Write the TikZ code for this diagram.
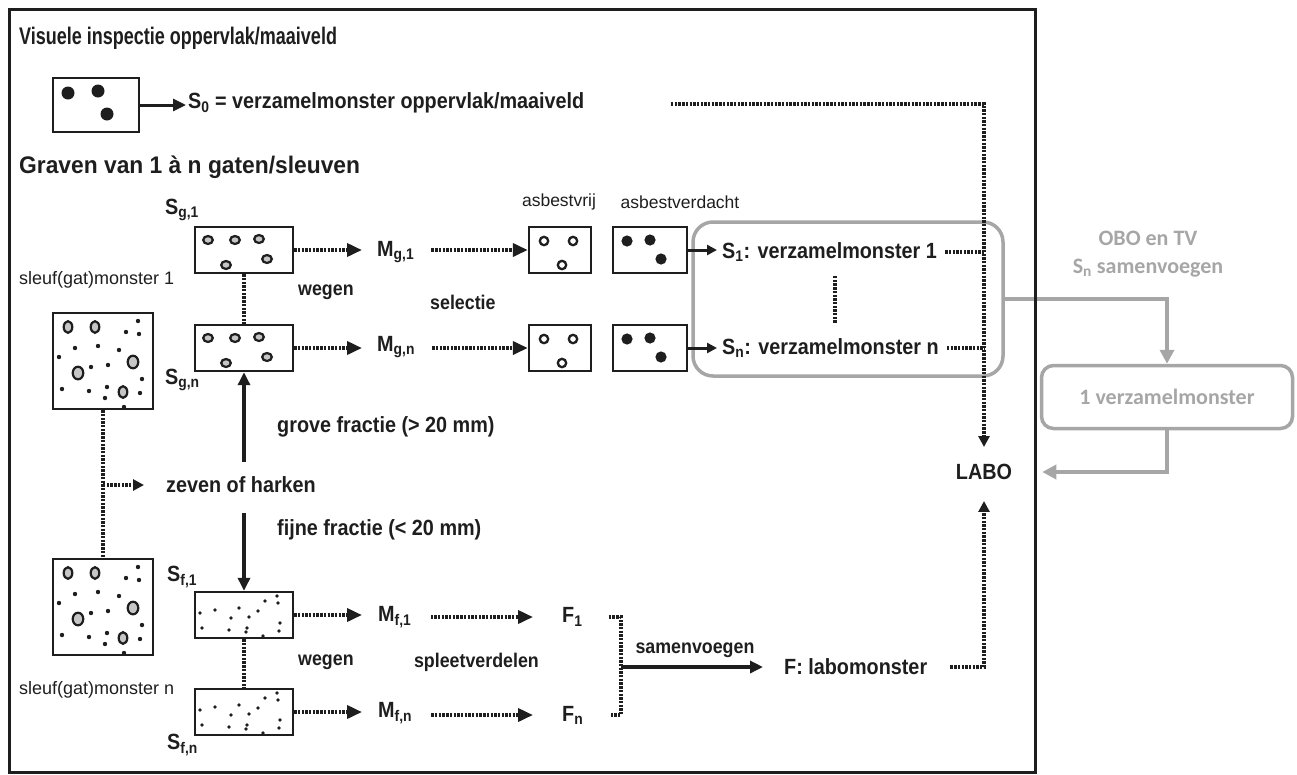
\documentclass[tikz,border=0pt]{standalone}
\usepackage{fontspec}
\setmainfont{Liberation Sans}[FakeStretch=0.9]
\newfontfamily\regfont{Liberation Sans}
\newfontfamily\titlefont{Liberation Sans}[FakeStretch=0.75]
\newfontfamily\gravenfont{Liberation Sans}[FakeStretch=0.95]
\newfontfamily\grfont{Carlito}
\usetikzlibrary{arrows.meta}
\definecolor{ink}{HTML}{1E1E1E}
\definecolor{greyline}{HTML}{A6A6A6}
\newcommand{\fs}[1]{\fontsize{#1}{#1}\selectfont}
\newcommand{\bakdots}{%
  \foreach \a/\b in {-35/-34,-8/-34,20/31} {\draw[gravel] (\a,\b) ellipse[x radius=4.3pt, y radius=5.8pt];}
  \foreach \a/\b in {30/1,-25/12} {\draw[gravel] (\a,\b) ellipse[x radius=5.3pt, y radius=6.3pt];}
  \foreach \a/\b in {35/-40,23/-29,36/-27,-28/-13,-5/-15,16/-11,-44/-4,-12/6,5/4,39/18,-41/28,-14/30,4/26,2/37,37/32,21/46} {\fill[ink] (\a,\b) circle[radius=2.2pt];}}
\newcommand{\grovedots}{%
  \foreach \a/\b in {-36/-10,-9/-10,15/-11,-18/15,23/9} {\draw[gravel] (\a,\b) ellipse[x radius=4.8pt, y radius=4pt];}}
\newcommand{\fijnedots}{%
  \foreach \a/\b in {-44/-2,-29/-5,-5/-7,-13/3,14/-4,21/-14,33/-19,34/-12,5/2,-42/13,-15/15,3/13,2/17,36/8,35/16,19/21} {\fill[ink] (\a,\b) circle[radius=1.8pt];}}
\newcommand{\vrijdots}{%
  \foreach \a/\b in {-16/-9,13/-9,2/15} {\draw[ink, line width=2.3pt, fill=white] (\a,\b) circle[radius=4.2pt];}}
\newcommand{\verdachtdots}{%
  \foreach \a/\b in {-23/-9,0/-10,11/9} {\fill[ink] (\a,\b) circle[radius=5.6pt];}}
\begin{document}
\begin{tikzpicture}[x=1pt,y=-1pt,
  smp/.style={draw=ink, line width=2.4pt, fill=white, inner sep=0pt},
  lbl/.style={inner sep=0pt, text=ink, font=\fs{22}\bfseries},
  lbls/.style={inner sep=0pt, text=ink, font=\fs{19.8}\bfseries},
  lblr/.style={inner sep=0pt, text=ink, font=\regfont\fs{18}},
  dotl/.style={draw=ink, line width=3.6pt, dash pattern=on 2.4pt off 1.3pt},
  dtip/.style={-{Triangle[length=15pt,width=13pt]}},
  ltip/.style={-{Triangle[length=11pt,width=11pt]}},
  sarr/.style={draw=ink, line width=3.4pt, -{Triangle[length=13pt,width=12pt]}},
  grl/.style={draw=greyline, line width=3.5pt},
  gtip/.style={-{Triangle[length=14pt,width=14pt]}},
  gravel/.style={draw=ink, line width=2.2pt, fill=gray!45},
  gtext/.style={inner sep=0pt, text=greyline, font=\grfont\bfseries\fs{22}}]
\useasboundingbox (0,0) rectangle (1297,774);

% ---- top part
\node[inner sep=0pt, text=ink, font=\titlefont\fs{24}\bfseries, anchor=west] (title) at (19,38) {Visuele inspectie oppervlak/maaiveld};
\node[smp, minimum width=86pt, minimum height=54pt] (s0box) at (96,105) {};
\begin{scope}[shift={(s0box.center)}]
  \fill[ink] (-28,-12) circle[radius=6.5pt] (2,-14) circle[radius=6.5pt] (11,9) circle[radius=6.5pt];
\end{scope}
\node[lbl, anchor=west] (s0t) at (188,103) {S\textsubscript{0} = verzamelmonster oppervlak/maaiveld};
\draw[sarr, line width=3pt, shorten >=2pt] (s0box.east) -- (s0box.east -| s0t.west);
\node[inner sep=0pt, text=ink, font=\gravenfont\fs{24}\bfseries, anchor=west] (graven) at (19,167) {Graven van 1 à n gaten/sleuven};

% ---- large sample boxes
\node[smp, minimum width=100pt, minimum height=96pt] (big1) at (103,361) {};
\begin{scope}[shift={(big1.center)}]\bakdots\end{scope}
\node[smp, minimum width=100pt, minimum height=96pt] (big2) at (103,607) {};
\begin{scope}[shift={(big2.center)}]\bakdots\end{scope}
\node[lblr, anchor=west] (sl1) at (19,280) {sleuf(gat)monster 1};
\node[lblr, anchor=west] (sln) at (19,690) {sleuf(gat)monster n};

% ---- coarse fraction boxes
\node[smp, minimum width=98pt, minimum height=46pt] (sg1) at (244,250) {};
\begin{scope}[shift={(sg1.center)}]\grovedots\end{scope}
\node[smp, minimum width=98pt, minimum height=46pt] (sgn) at (244,348) {};
\begin{scope}[shift={(sgn.center)}]\grovedots\end{scope}
\node[lbl, anchor=west] (lsg1) at (165,210) {S\textsubscript{g,1}};
\node[lbl, anchor=west] (lsgn) at (165,380) {S\textsubscript{g,n}};

% ---- fine fraction boxes
\node[smp, minimum width=98pt, minimum height=46pt] (sf1) at (244,615) {};
\begin{scope}[shift={(sf1.center)}]\fijnedots\end{scope}
\node[smp, minimum width=98pt, minimum height=46pt] (sfn) at (244,712) {};
\begin{scope}[shift={(sfn.center)}]\fijnedots\end{scope}
\node[lbl, anchor=west] (lsf1) at (167,577) {S\textsubscript{f,1}};
\node[lbl, anchor=west] (lsfn) at (167,745) {S\textsubscript{f,n}};

% ---- sieving
\node[lbl, anchor=west] (zeven) at (166,485) {zeven of harken};
\node[lbl, anchor=west] (grove) at (277,427) {grove fractie (> 20 mm)};
\node[lbl, anchor=west] (fijne) at (277,530) {fijne fractie (< 20 mm)};
\draw[dotl] (big1.south) -- (big2.north);
\draw[dotl, ltip] (big1.south |- zeven.west) -- ([xshift=-22pt]zeven.west);
\draw[sarr, shorten <=15pt] (zeven.north -| sgn.south) -- (sgn.south);
\draw[sarr, shorten <=20pt] (zeven.south -| sf1.north) -- (sf1.north);
\draw[dotl] (sg1.south) -- (sgn.north);
\draw[dotl] (sf1.south) -- (sfn.north);

% ---- weighing and selection (coarse)
\node[lbl, anchor=west] (mg1) at (377,252) {M\textsubscript{g,1}};
\node[lbl, anchor=west] (mgn) at (377,347) {M\textsubscript{g,n}};
\node[lbls, anchor=west] (weg1) at (298,292) {wegen};
\node[lbls, anchor=west] (sel) at (430,302) {selectie};
\node[smp, minimum width=62pt, minimum height=46pt] (av1) at (560,250) {};
\begin{scope}[shift={(av1.center)}]\vrijdots\end{scope}
\node[smp, minimum width=74pt, minimum height=46pt] (ad1) at (650,250) {};
\begin{scope}[shift={(ad1.center)}]\verdachtdots\end{scope}
\node[smp, minimum width=62pt, minimum height=46pt] (av2) at (560,348) {};
\begin{scope}[shift={(av2.center)}]\vrijdots\end{scope}
\node[smp, minimum width=74pt, minimum height=46pt] (ad2) at (650,348) {};
\begin{scope}[shift={(ad2.center)}]\verdachtdots\end{scope}
\node[lblr, font=\regfont\fs{17.5}] (tvrij) at (559,202) {asbestvrij};
\node[lblr, font=\regfont\fs{17.5}] (tverd) at (680,202) {asbestverdacht};
\draw[dotl, dtip, shorten >=15pt] (sg1.east) -- (sg1.east -| mg1.west);
\draw[dotl, dtip, shorten >=15pt] (sgn.east) -- (sgn.east -| mgn.west);
\draw[dotl, dtip, shorten <=17pt] (mg1.east |- av1.west) -- (av1.west);
\draw[dotl, dtip, shorten <=17pt] (mgn.east |- av2.west) -- (av2.west);

% ---- grey grouping
\node[grl, rounded corners=20pt, minimum width=310pt, minimum height=154pt, inner sep=0pt] (grp) at (848,299) {};

\node[lbl, anchor=west] (s1) at (722,252) {S\textsubscript{1}: verzamelmonster 1};
\node[lbl, anchor=west] (sn) at (722,348) {S\textsubscript{n}: verzamelmonster n};
\draw[draw=ink, line width=3pt, -{Triangle[length=10pt,width=10pt]}, shorten >=5pt] (ad1.east) -- (ad1.east -| s1.west);
\draw[draw=ink, line width=3pt, -{Triangle[length=10pt,width=10pt]}, shorten >=5pt] (ad2.east) -- (ad2.east -| sn.west);
\coordinate (m1) at (835,276);
\coordinate (m2) at (835,323);
\draw[dotl, line width=4.5pt] (m1) -- (m2);

% ---- LABO
\node[lbl] (labo) at (984,472) {LABO};
\coordinate (s0d) at (671,104);
\draw[dotl, ltip, shorten >=17pt] (s0d) -- (s0d -| labo.north) -- (labo.north);
\draw[dotl] ([xshift=8pt]s1.east) -- (s1.east -| labo.north);
\draw[dotl] ([xshift=8pt]sn.east) -- (sn.east -| labo.north);

% ---- fine fraction: weighing, splitting, joining
\node[lbl, anchor=west] (mf1) at (378,617) {M\textsubscript{f,1}};
\node[lbl, anchor=west] (mfn) at (378,713) {M\textsubscript{f,n}};
\node[lbls, anchor=west] (weg2) at (298,662) {wegen};
\node[lbls, anchor=east] (split) at (539,662) {spleetverdelen};
\node[lbl, anchor=west] (f1) at (562,617) {F\textsubscript{1}};
\node[lbl, anchor=west] (fn) at (562,715) {F\textsubscript{n}};
\draw[dotl, dtip, shorten >=16pt] (sf1.east) -- (sf1.east -| mf1.west);
\draw[dotl, dtip, shorten >=16pt] (sfn.east) -- (sfn.east -| mfn.west);
\draw[dotl, dtip, shorten <=19pt, shorten >=29pt] (mf1.east |- f1.west) -- (f1.west);
\draw[dotl, dtip, shorten <=19pt, shorten >=29pt] (mfn.east |- fn.west) -- (fn.west);
\coordinate (join) at (621,667);
\draw[dotl] ([xshift=26pt]f1.east) -| (join) |- ([xshift=26pt]fn.east);
\node[lbl, anchor=west] (flab) at (784,667) {F: labomonster};
\node[lbls] (samv) at (695,650) {samenvoegen};
\draw[sarr, shorten >=21pt] (join) -- (join -| flab.west);
\draw[dotl, ltip, shorten <=23pt, shorten >=21pt] (flab.east) -| (labo.south);

% ---- grey part outside the frame
\node[gtext] (obo) at (1148,238) {OBO en TV};
\node[gtext] (samg) at (1148,268) {S\textsubscript{n} samenvoegen};
\node[grl, rounded corners=12pt, minimum width=251pt, minimum height=63pt, inner sep=0pt, gtext] (gbox) at (1167,397) {1 verzamelmonster};
\draw[grl, gtip] (grp.east) -| (gbox.north);
\draw[grl, gtip, shorten >=30pt] (gbox.south) |- (labo.east);

% ---- frame
\draw[draw=ink, line width=3pt] (9,9) rectangle (1035,772);
\end{tikzpicture}
\end{document}
